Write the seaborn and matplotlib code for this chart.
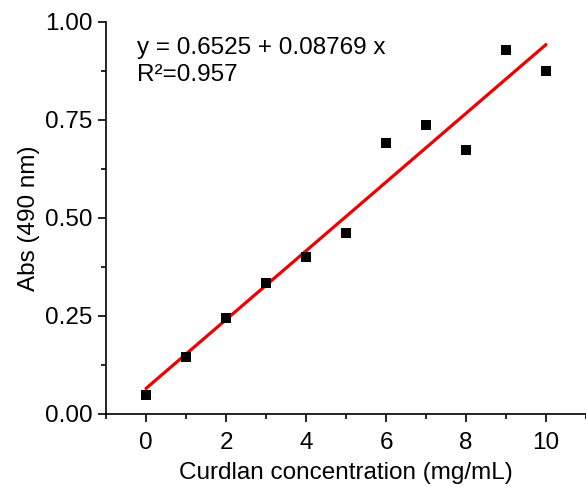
import numpy as np
import pandas as pd
import seaborn as sns
import matplotlib.pyplot as plt
from matplotlib.ticker import MultipleLocator

# Absorbance readings for the curdlan standard curve
concentration = [0, 1, 2, 3, 4, 5, 6, 7, 8, 9, 10]
absorbance = [0.048, 0.145, 0.245, 0.334, 0.400, 0.462, 0.691, 0.737, 0.673, 0.929, 0.875]
equation_text = "y = 0.6525 + 0.08769 x\nR²=0.957"

data = pd.DataFrame({"conc": concentration, "abs": absorbance})

sns.set_style("ticks")
plt.rcParams["font.family"] = ["Liberation Sans", "DejaVu Sans"]
plt.rcParams["text.color"] = "black"
plt.rcParams["axes.labelcolor"] = "black"
plt.rcParams["xtick.color"] = "black"
plt.rcParams["ytick.color"] = "black"

fig = plt.figure(figsize=(5.86, 4.88), dpi=100)
ax = fig.add_axes([0.181, 0.152, 0.819, 0.803])

# fitted line and the points
sns.regplot(x="conc", y="abs", data=data, ci=None, ax=ax, truncate=True,
            scatter=False, line_kws={"color": "#ee0000", "lw": 2.3, "zorder": 2})
sns.scatterplot(x="conc", y="abs", data=data, ax=ax, marker="s", s=55,
                color="black", edgecolor="black", linewidth=0, zorder=3)

ax.set_xlim(-1, 11)
ax.set_ylim(0, 1.0)
ax.xaxis.set_major_locator(MultipleLocator(2))
ax.xaxis.set_minor_locator(MultipleLocator(1))
ax.yaxis.set_major_locator(MultipleLocator(0.25))
ax.yaxis.set_minor_locator(MultipleLocator(0.125))
ax.yaxis.set_major_formatter(plt.FormatStrFormatter("%.2f"))

ax.tick_params(which="major", length=6, width=1.2, labelsize=17.5, color="black")
ax.tick_params(axis="x", which="major", pad=7)
ax.tick_params(which="minor", length=3.5, width=1.2, color="black")
for side in ["top", "right"]:
    ax.spines[side].set_visible(False)
for side in ["left", "bottom"]:
    ax.spines[side].set_linewidth(1.2)
    ax.spines[side].set_color("black")

ax.set_xlabel("Curdlan concentration (mg/mL)", fontsize=17.5, labelpad=6)
ax.set_ylabel("Abs (490 nm)", fontsize=17.5, labelpad=4)

ax.text(0.064, 0.962, equation_text, transform=ax.transAxes, fontsize=17.5,
        va="top", ha="left", linespacing=1.3)

plt.savefig("out.png", dpi=100)
plt.close()
